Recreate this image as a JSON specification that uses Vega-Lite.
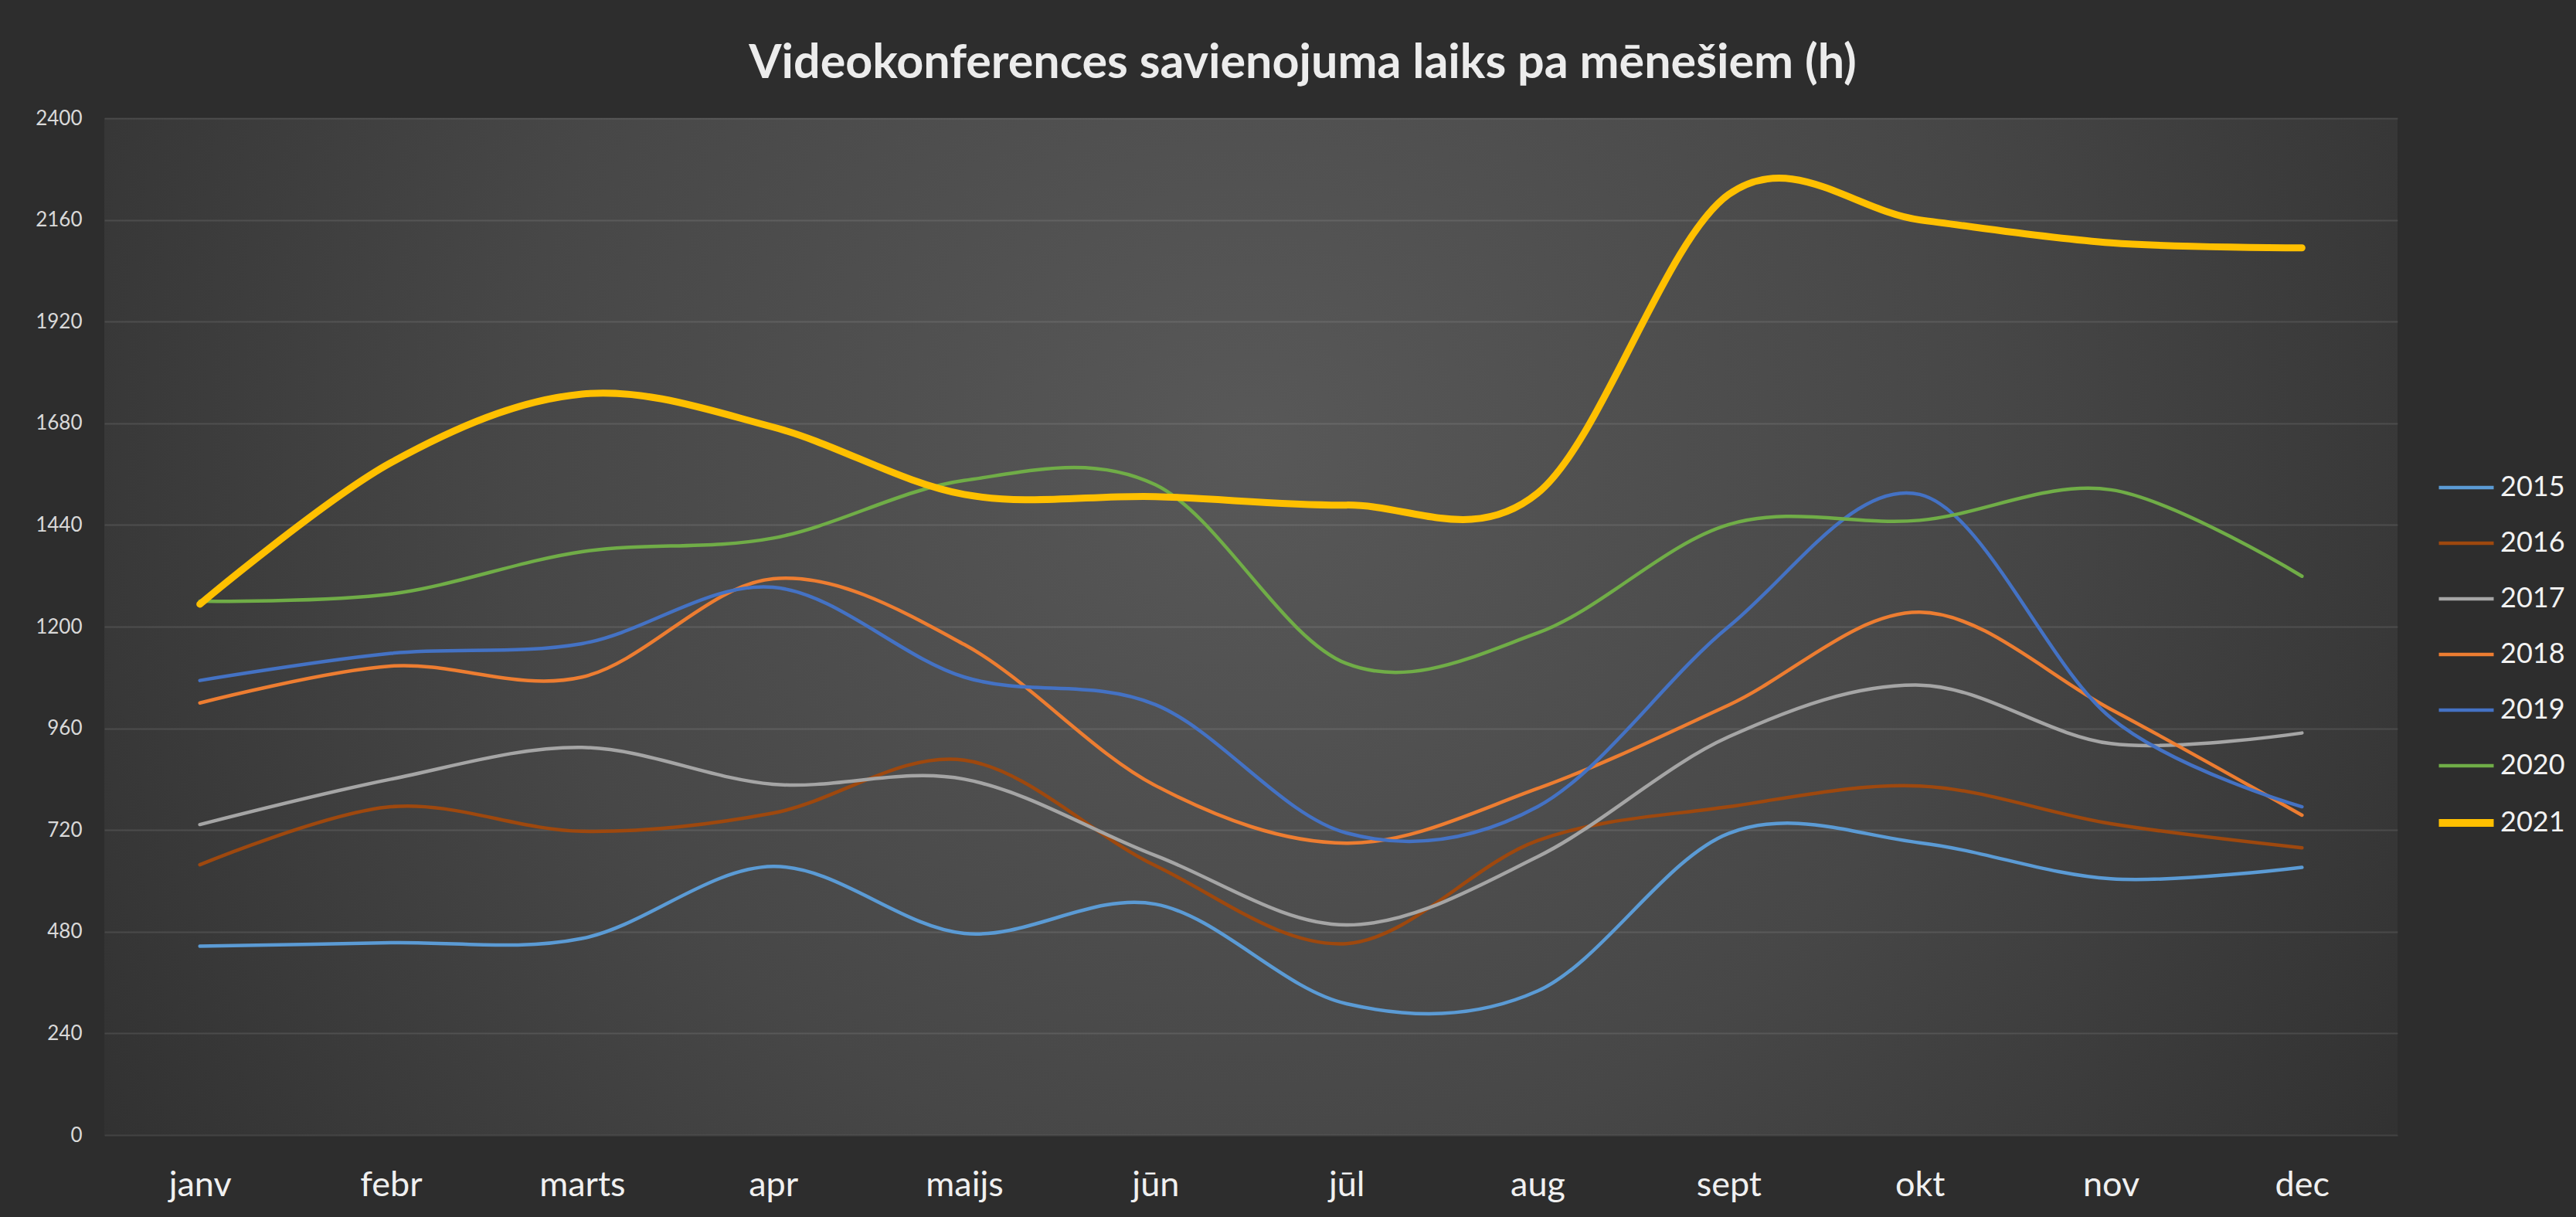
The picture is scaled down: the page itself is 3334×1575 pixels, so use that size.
{
  "$schema": "https://vega.github.io/schema/vega-lite/v6.json",
  "autosize": {"type": "none"},
  "width": 2968,
  "height": 1316,
  "padding": {"left": 135, "top": 153, "right": 231, "bottom": 106},
  "background": "#2d2d2d",
  "view": {
    "stroke": null,
    "fill": {
      "gradient": "radial",
      "x1": 0.5, "y1": 0.42, "r1": 0,
      "x2": 0.5, "y2": 0.42, "r2": 0.64,
      "stops": [
        {"offset": 0, "color": "#585858"},
        {"offset": 0.5, "color": "#474747"},
        {"offset": 1, "color": "#2d2d2d"}
      ]
    }
  },
  "title": {
    "text": "Videokonferences savienojuma laiks pa mēnešiem (h)",
    "font": "Lato",
    "fontSize": 61,
    "fontWeight": "bold",
    "color": "#ececec",
    "letterSpacing": 10.5,
    "anchor": "middle",
    "offset": 26,
    "dx": 67
  },
  "data": {
    "values": [
      {"month": "janv", "year": "2015", "value": 446},
      {"month": "febr", "year": "2015", "value": 454},
      {"month": "marts", "year": "2015", "value": 464},
      {"month": "apr", "year": "2015", "value": 634},
      {"month": "maijs", "year": "2015", "value": 476},
      {"month": "jūn", "year": "2015", "value": 545},
      {"month": "jūl", "year": "2015", "value": 310},
      {"month": "aug", "year": "2015", "value": 340},
      {"month": "sept", "year": "2015", "value": 712},
      {"month": "okt", "year": "2015", "value": 690},
      {"month": "nov", "year": "2015", "value": 605},
      {"month": "dec", "year": "2015", "value": 632},

      {"month": "janv", "year": "2016", "value": 638},
      {"month": "febr", "year": "2016", "value": 775},
      {"month": "marts", "year": "2016", "value": 717},
      {"month": "apr", "year": "2016", "value": 760},
      {"month": "maijs", "year": "2016", "value": 885},
      {"month": "jūn", "year": "2016", "value": 636},
      {"month": "jūl", "year": "2016", "value": 452},
      {"month": "aug", "year": "2016", "value": 695},
      {"month": "sept", "year": "2016", "value": 775},
      {"month": "okt", "year": "2016", "value": 824},
      {"month": "nov", "year": "2016", "value": 735},
      {"month": "dec", "year": "2016", "value": 678},

      {"month": "janv", "year": "2017", "value": 733},
      {"month": "febr", "year": "2017", "value": 840},
      {"month": "marts", "year": "2017", "value": 915},
      {"month": "apr", "year": "2017", "value": 828},
      {"month": "maijs", "year": "2017", "value": 840},
      {"month": "jūn", "year": "2017", "value": 660},
      {"month": "jūl", "year": "2017", "value": 496},
      {"month": "aug", "year": "2017", "value": 657},
      {"month": "sept", "year": "2017", "value": 940},
      {"month": "okt", "year": "2017", "value": 1062},
      {"month": "nov", "year": "2017", "value": 924},
      {"month": "dec", "year": "2017", "value": 949},

      {"month": "janv", "year": "2018", "value": 1020},
      {"month": "febr", "year": "2018", "value": 1107},
      {"month": "marts", "year": "2018", "value": 1081},
      {"month": "apr", "year": "2018", "value": 1313},
      {"month": "maijs", "year": "2018", "value": 1158},
      {"month": "jūn", "year": "2018", "value": 825},
      {"month": "jūl", "year": "2018", "value": 689},
      {"month": "aug", "year": "2018", "value": 818},
      {"month": "sept", "year": "2018", "value": 1015},
      {"month": "okt", "year": "2018", "value": 1234},
      {"month": "nov", "year": "2018", "value": 1005},
      {"month": "dec", "year": "2018", "value": 755},

      {"month": "janv", "year": "2019", "value": 1073},
      {"month": "febr", "year": "2019", "value": 1137},
      {"month": "marts", "year": "2019", "value": 1160},
      {"month": "apr", "year": "2019", "value": 1293},
      {"month": "maijs", "year": "2019", "value": 1081},
      {"month": "jūn", "year": "2019", "value": 1016},
      {"month": "jūl", "year": "2019", "value": 713},
      {"month": "aug", "year": "2019", "value": 775},
      {"month": "sept", "year": "2019", "value": 1200},
      {"month": "okt", "year": "2019", "value": 1512},
      {"month": "nov", "year": "2019", "value": 985},
      {"month": "dec", "year": "2019", "value": 775},

      {"month": "janv", "year": "2020", "value": 1260},
      {"month": "febr", "year": "2020", "value": 1277},
      {"month": "marts", "year": "2020", "value": 1377},
      {"month": "apr", "year": "2020", "value": 1409},
      {"month": "maijs", "year": "2020", "value": 1545},
      {"month": "jūn", "year": "2020", "value": 1535},
      {"month": "jūl", "year": "2020", "value": 1113},
      {"month": "aug", "year": "2020", "value": 1185},
      {"month": "sept", "year": "2020", "value": 1441},
      {"month": "okt", "year": "2020", "value": 1451},
      {"month": "nov", "year": "2020", "value": 1523},
      {"month": "dec", "year": "2020", "value": 1319},

      {"month": "janv", "year": "2021", "value": 1253},
      {"month": "febr", "year": "2021", "value": 1587},
      {"month": "marts", "year": "2021", "value": 1749},
      {"month": "apr", "year": "2021", "value": 1671},
      {"month": "maijs", "year": "2021", "value": 1512},
      {"month": "jūn", "year": "2021", "value": 1507},
      {"month": "jūl", "year": "2021", "value": 1487},
      {"month": "aug", "year": "2021", "value": 1515},
      {"month": "sept", "year": "2021", "value": 2220},
      {"month": "okt", "year": "2021", "value": 2160},
      {"month": "nov", "year": "2021", "value": 2106},
      {"month": "dec", "year": "2021", "value": 2094}
    ]
  },
  "mark": {"type": "line", "interpolate": "cardinal", "strokeCap": "round", "strokeJoin": "round"},
  "encoding": {
    "x": {
      "field": "month",
      "type": "ordinal",
      "sort": ["janv", "febr", "marts", "apr", "maijs", "jūn", "jūl", "aug", "sept", "okt", "nov", "dec"],
      "scale": {"type": "point", "padding": 0.5},
      "axis": {
        "title": null,
        "domain": false,
        "ticks": false,
        "labelFont": "Lato",
        "labelFontSize": 45,
        "labelColor": "#f0f0f0",
        "labelPadding": 42,
        "labelAngle": 0,
        "grid": false
      }
    },
    "y": {
      "field": "value",
      "type": "quantitative",
      "scale": {"domain": [0, 2400], "nice": false},
      "axis": {
        "title": null,
        "domain": false,
        "ticks": false,
        "format": "d",
        "values": [0, 240, 480, 720, 960, 1200, 1440, 1680, 1920, 2160, 2400],
        "labelFont": "Lato",
        "labelFontSize": 26,
        "labelColor": "#d9d9d9",
        "labelPadding": 29,
        "grid": true,
        "gridColor": "#ffffff",
        "gridOpacity": 0.1,
        "gridWidth": 2
      }
    },
    "color": {
      "field": "year",
      "type": "nominal",
      "scale": {
        "domain": ["2015", "2016", "2017", "2018", "2019", "2020", "2021"],
        "range": ["#5b9bd5", "#9e480e", "#a5a5a5", "#ed7d31", "#4472c4", "#70ad47", "#ffc000"]
      },
      "legend": {
        "title": null,
        "orient": "none",
        "legendX": 3039,
        "legendY": 460,
        "symbolType": "stroke",
        "symbolSize": 5041,
        "symbolStrokeWidth": 4.5,
        "rowPadding": 36,
        "labelFont": "Lato",
        "labelFontSize": 36,
        "labelColor": "#f2f2f2",
        "labelOffset": 26,
        "encode": {
          "symbols": {
            "update": {
              "strokeWidth": {"signal": "datum.value === '2021' ? 10 : 4.5"}
            }
          }
        }
      }
    },
    "strokeWidth": {
      "condition": {"test": "datum.year === '2021'", "value": 9},
      "value": 4.5
    }
  }
}
